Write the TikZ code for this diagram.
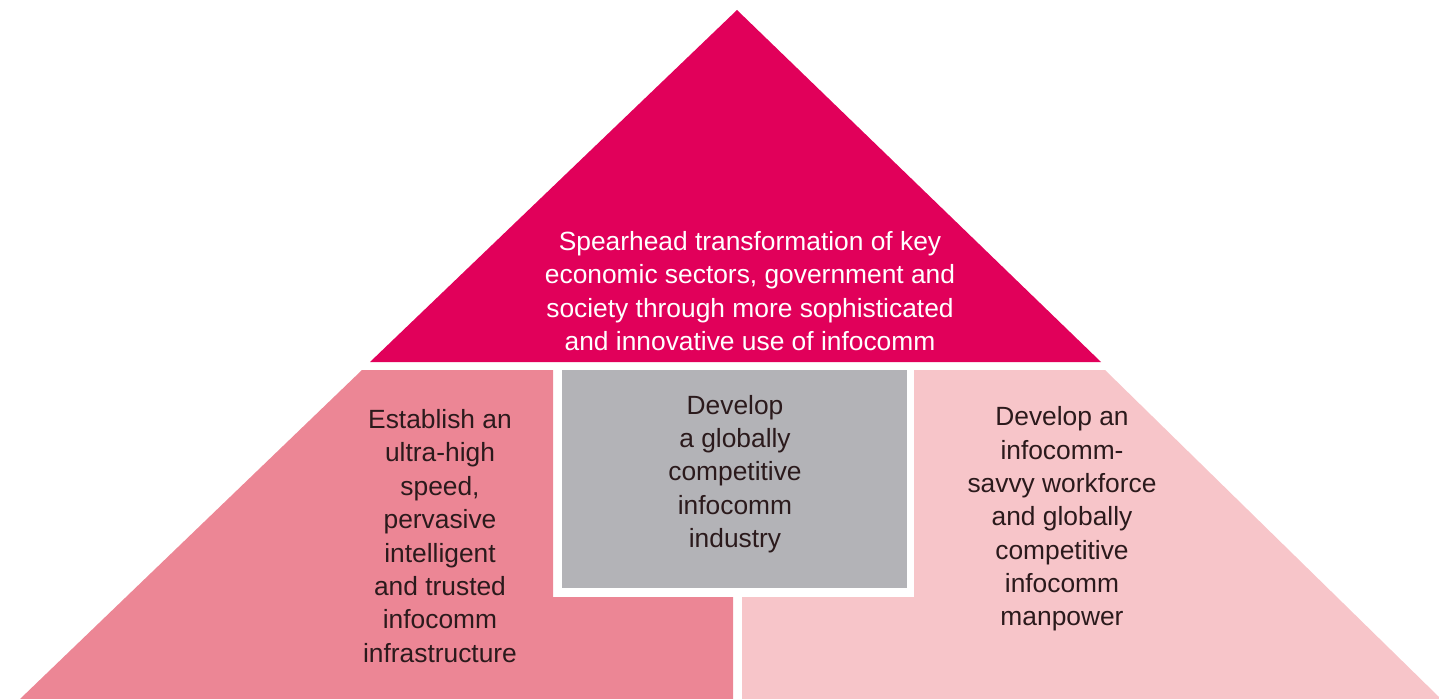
\documentclass[tikz,border=0pt]{standalone}
\usepackage{fontspec}
\setmainfont{Liberation Sans}
\usepackage{xcolor}
\usepackage{tikz}
\usetikzlibrary{positioning,calc}

\definecolor{topred}{HTML}{E1005A}
\definecolor{leftpink}{HTML}{EC8695}
\definecolor{rightpink}{HTML}{F7C5C9}
\definecolor{boxgray}{HTML}{B3B3B7}
\definecolor{darktext}{HTML}{2B1A1C}

\begin{document}
\begin{tikzpicture}[x=0.02cm,y=-0.02cm,
    font=\fontsize{15}{19}\selectfont,
    pillar/.style={align=center, text=darktext, inner sep=0pt}]
    \useasboundingbox (0,0) rectangle (1439,699);

    % top triangle
    \fill[topred] (737,10) -- (370,362) -- (1101,362) -- cycle;
    % left pillar
    \fill[leftpink] (362,370) -- (553,370) -- (553,597) -- (733,597)
        -- (733,699) -- (20,699) -- cycle;
    % right pillar
    \fill[rightpink] (914,370) -- (1105,370) -- (1439,697) -- (1439,699)
        -- (742,699) -- (742,597) -- (914,597) -- cycle;
    % centre box
    \fill[boxgray] (562,370) rectangle (907,588);

    \node[align=center, text=white, inner sep=0pt] (vision) at (750,291)
        {Spearhead transformation of key\\economic sectors, government and\\
         society through more sophisticated\\and innovative use of infocomm};
    \node[pillar] (infra) at (440,536)
        {Establish an\\ultra-high\\speed,\\pervasive\\intelligent\\and trusted\\
         infocomm\\infrastructure};
    \node[pillar] (industry) at (735,474)
        {Develop\\a globally\\competitive\\infocomm\\industry};
    \node[pillar] (manpower) at (1062,519)
        {Develop an\\infocomm-\\savvy workforce\\and globally\\competitive\\
         infocomm\\manpower};
\end{tikzpicture}
\end{document}
